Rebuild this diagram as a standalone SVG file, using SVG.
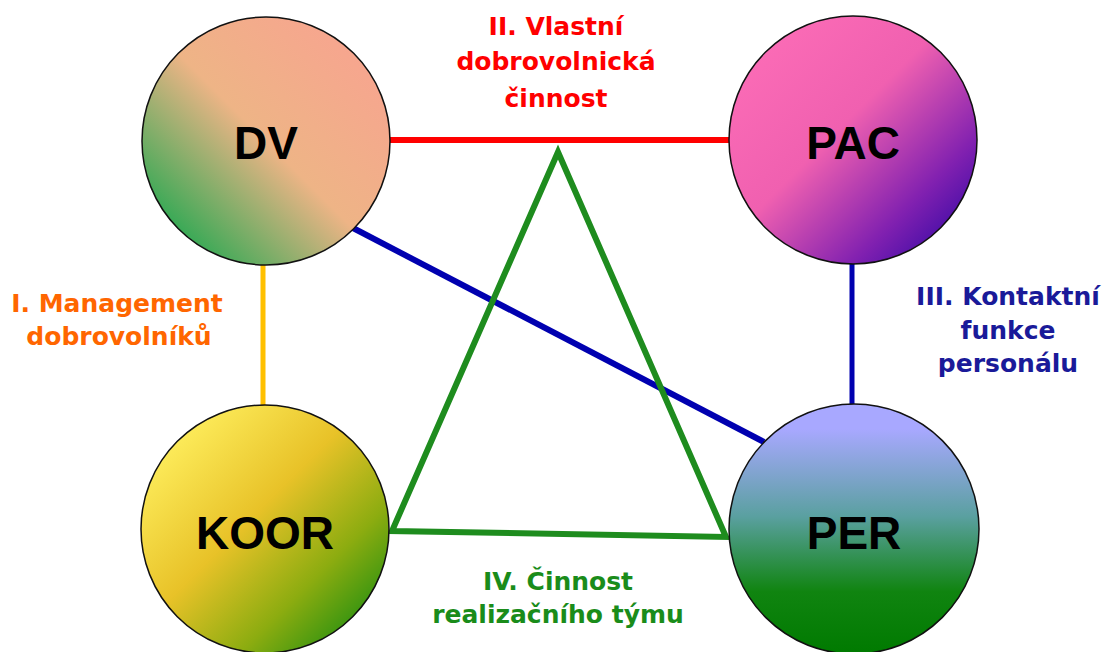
<svg xmlns="http://www.w3.org/2000/svg" width="1110" height="652" viewBox="0 0 1110 652">
<defs>
<linearGradient id="gDV" x1="0" y1="1" x2="1" y2="0">
<stop offset="0.1" stop-color="#22a850"/>
<stop offset="0.5" stop-color="#eeb486"/>
<stop offset="1" stop-color="#faa092"/>
</linearGradient>
<linearGradient id="gPAC" x1="0" y1="0" x2="1" y2="1">
<stop offset="0" stop-color="#ff70b8"/>
<stop offset="0.45" stop-color="#f060b0"/>
<stop offset="0.75" stop-color="#8020b0"/>
<stop offset="1" stop-color="#1a00a0"/>
</linearGradient>
<linearGradient id="gKOOR" x1="0" y1="0" x2="1" y2="1">
<stop offset="0.1" stop-color="#fff060"/>
<stop offset="0.45" stop-color="#e8c228"/>
<stop offset="0.7" stop-color="#8cac10"/>
<stop offset="0.95" stop-color="#108a10"/>
</linearGradient>
<linearGradient id="gPER" x1="0" y1="0" x2="0" y2="1">
<stop offset="0.1" stop-color="#a8a8ff"/>
<stop offset="0.45" stop-color="#5aa0a0"/>
<stop offset="0.75" stop-color="#108410"/>
<stop offset="1" stop-color="#007a00"/>
</linearGradient>
</defs>
<style>
.node{stroke:#111;stroke-width:1.5}
.nl{font-family:"Liberation Sans",Arial,sans-serif;font-weight:bold;font-size:46px;fill:#000;text-anchor:middle}
.lab{font-family:"DejaVu Sans",Verdana,sans-serif;font-weight:bold;font-size:25px;text-anchor:middle}
.c{fill:none;stroke-linecap:butt}
</style>
<rect width="1110" height="652" fill="#fff"/>
<g id="connectors">
<line class="c" x1="390" y1="140" x2="729" y2="140" stroke="#ff0000" stroke-width="6"/>
<line class="c" x1="263" y1="262" x2="263" y2="409" stroke="#ffc000" stroke-width="5"/>
<line class="c" x1="852" y1="261" x2="852" y2="409" stroke="#0000b0" stroke-width="5"/>
<line class="c" x1="353" y1="228" x2="764" y2="442" stroke="#0000b0" stroke-width="6"/>
<polygon points="558,152 392,531 726,537" fill="none" stroke="#1e8c1e" stroke-width="6" stroke-linejoin="miter"/>
</g>
<g id="node-DV">
<circle class="node" cx="266" cy="141" r="124" fill="url(#gDV)"/>
<text class="nl" x="266" y="159">DV</text>
</g>
<g id="node-PAC">
<circle class="node" cx="853" cy="140" r="124" fill="url(#gPAC)"/>
<text class="nl" x="853" y="159">PAC</text>
</g>
<g id="node-KOOR">
<circle class="node" cx="265" cy="529" r="124" fill="url(#gKOOR)"/>
<text class="nl" x="265" y="549">KOOR</text>
</g>
<g id="node-PER">
<circle class="node" cx="854" cy="529" r="125" fill="url(#gPER)"/>
<text class="nl" x="854" y="549">PER</text>
</g>
<g id="labels">
<text class="lab" fill="#ff0000" x="556" y="35">II. Vlastní</text>
<text class="lab" fill="#ff0000" x="556" y="70">dobrovolnická</text>
<text class="lab" fill="#ff0000" x="556" y="107">činnost</text>
<text class="lab" fill="#ff6600" x="117" y="312">I. Management</text>
<text class="lab" fill="#ff6600" x="119" y="345">dobrovolníků</text>
<text class="lab" fill="#1a1a99" x="1008" y="305">III. Kontaktní</text>
<text class="lab" fill="#1a1a99" x="1008" y="339">funkce</text>
<text class="lab" fill="#1a1a99" x="1008" y="372">personálu</text>
<text class="lab" fill="#1a8c1a" x="558" y="590">IV. Činnost</text>
<text class="lab" fill="#1a8c1a" x="558" y="623">realizačního týmu</text>
</g>
</svg>
